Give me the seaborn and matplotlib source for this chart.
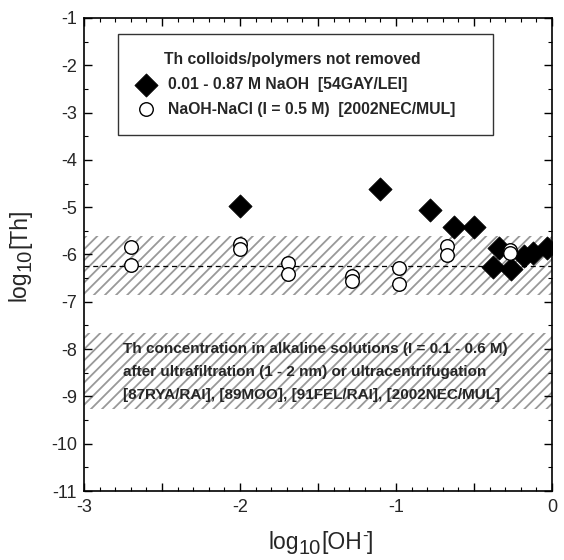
import matplotlib
matplotlib.use("Agg")
import matplotlib.pyplot as plt
import seaborn as sns
import pandas as pd
from matplotlib.ticker import MultipleLocator, FuncFormatter

# ---- data ----
naoh_x = [-2.00, -1.10, -0.78, -0.63, -0.50, -0.34, -0.38, -0.26, -0.18, -0.12, -0.03]
naoh_y = [-4.97, -4.62, -5.05, -5.42, -5.41, -5.87, -6.27, -6.31, -6.03, -5.97, -5.87]

nacl_x = [-2.70, -2.70, -2.00, -2.00, -1.69, -1.69, -1.28, -1.28, -0.98, -0.98, -0.675, -0.675, -0.27, -0.27]
nacl_y = [-5.85, -6.22, -5.78, -5.88, -6.17, -6.41, -6.45, -6.55, -6.29, -6.62, -5.83, -6.01, -5.90, -5.96]

band_upper = (-6.85, -5.61)
band_lower = (-9.26, -7.66)
mean_line = -6.25

legend_title = "Th colloids/polymers not removed"
label_naoh = "0.01 - 0.87 M NaOH  [54GAY/LEI]"
label_nacl = "NaOH-NaCl (I = 0.5 M)  [2002NEC/MUL]"
band_text = ("Th concentration in alkaline solutions (I = 0.1 - 0.6 M)\n"
             "after ultrafiltration (1 - 2 nm) or ultracentrifugation\n"
             "[87RYA/RAI], [89MOO], [91FEL/RAI], [2002NEC/MUL]")
xlabel_parts = [("log", 16.5, 0), ("10", 14.5, -5), ("[OH", 16.5, 0), ("-", 12, 8), ("]", 16.5, 0)]
ylabel_parts = [("log", 16.5, 0), ("10", 14.5, -5), ("[Th]", 16.5, 0)]

sns.set_theme(style="ticks")
plt.rcParams['font.family'] = ['Liberation Sans', 'DejaVu Sans']
plt.rcParams['axes.unicode_minus'] = False
plt.rcParams['hatch.linewidth'] = 1.3

NARROW = ['Liberation Sans Narrow', 'Liberation Sans']

fig = plt.figure(figsize=(5.64, 5.6), dpi=100)
ax = fig.add_axes([84/564, 1-491/560, 468/564, 473/560])

# bands
ax.axhspan(*band_upper, facecolor='white', edgecolor='0.6', hatch='///', linewidth=0, zorder=0)
ax.axhspan(*band_lower, facecolor='white', edgecolor='0.6', hatch='///', linewidth=0, zorder=0)
ax.axhline(mean_line, color='black', linestyle=(0, (4, 3)), linewidth=0.9, zorder=1)

df1 = pd.DataFrame({"x": naoh_x, "y": naoh_y})
df2 = pd.DataFrame({"x": nacl_x, "y": nacl_y})
sns.scatterplot(data=df1, x="x", y="y", marker='D', s=140, color='black',
                edgecolor='black', linewidth=0.5, ax=ax, zorder=3, label=label_naoh)
sns.scatterplot(data=df2, x="x", y="y", marker='o', s=95, color='white',
                edgecolor='black', linewidth=1.0, ax=ax, zorder=4, label=label_nacl)

ax.text(-2.75, -7.86, band_text, fontsize=11.0, fontweight='bold', va='top', ha='left',
        linespacing=1.78, family=NARROW, zorder=5)

ax.set_xlim(-3, 0)
ax.set_ylim(-11, -1)
ax.xaxis.set_major_locator(MultipleLocator(0.5))
ax.xaxis.set_minor_locator(MultipleLocator(0.1))
ax.xaxis.set_major_formatter(FuncFormatter(lambda v, p: f"{int(round(v))}" if abs(v - round(v)) < 1e-6 else ""))
ax.yaxis.set_major_locator(MultipleLocator(1))
ax.yaxis.set_minor_locator(MultipleLocator(0.5))
ax.tick_params(which='both', direction='in', top=True, right=True, labelsize=13, color='black')
ax.tick_params(which='major', length=6, width=1)
ax.tick_params(which='minor', length=3, width=0.8)
ax.tick_params(axis='x', pad=6)
ax.tick_params(axis='y', pad=5)
for s in ax.spines.values():
    s.set_linewidth(1.2)
    s.set_color('black')
ax.set_xlabel("")
ax.set_ylabel("")

leg = ax.legend(loc='upper left', bbox_to_anchor=(0.073, 0.753, 0.80, 0.213), mode='expand',
                title=legend_title + "      ", frameon=True, fancybox=False, edgecolor='black',
                prop={'weight': 'bold', 'size': 11.3, 'family': NARROW},
                borderpad=1.15, handlelength=1.2, handletextpad=0.85, labelspacing=0.62,
                borderaxespad=0)
leg.get_title().set_fontweight('bold')
leg.get_title().set_fontsize(11.3)
leg.get_title().set_family(NARROW)
leg.get_frame().set_linewidth(1.0)
leg.set_zorder(6)

# composed axis labels (large subscripts like the reference)
W, H = fig.get_size_inches() * fig.dpi
renderer = fig.canvas.get_renderer()


def compose(parts, cx, cy, rotation=0):
    widths = []
    for s, size, dy in parts:
        t = fig.text(0, 0, s, fontsize=size)
        widths.append(t.get_window_extent(renderer).width)
        t.remove()
    pos = -sum(widths) / 2
    for (s, size, dy), w in zip(parts, widths):
        if rotation == 0:
            px, py = cx + pos, cy + dy
        else:
            px, py = cx - dy, cy + pos
        fig.text(px / W, py / H, s, fontsize=size, rotation=rotation,
                 rotation_mode='anchor', ha='left', va='baseline')
        pos += w


compose(xlabel_parts, 321, H - 549)
compose(ylabel_parts, 26, H - 255, rotation=90)

fig.savefig("out.png", dpi=100)
